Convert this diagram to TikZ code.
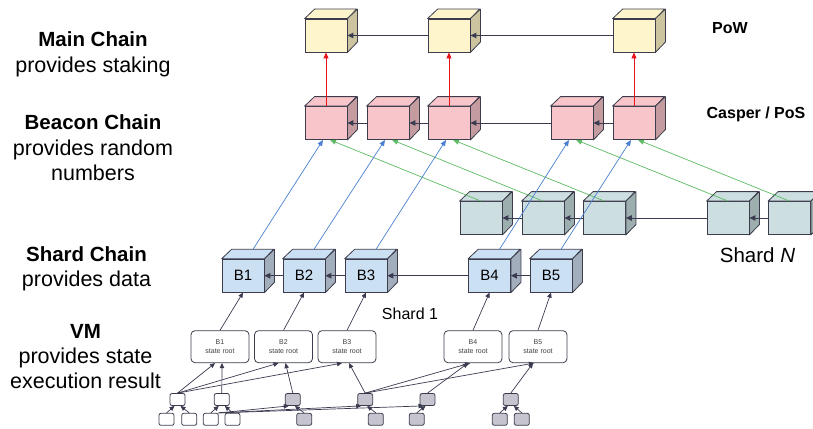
\documentclass[tikz,border=0pt]{standalone}
\usepackage{fontspec}
\setmainfont{Liberation Sans}
\usetikzlibrary{arrows.meta,calc}

\definecolor{edgeC}{HTML}{3C3C4C}
\definecolor{lineC}{HTML}{3A3A50}
\definecolor{powF}{HTML}{FFF5CC}
\definecolor{powS}{HTML}{CCC49F}
\definecolor{posF}{HTML}{F8C6CA}
\definecolor{posS}{HTML}{C49C9F}
\definecolor{shnF}{HTML}{CCDEDF}
\definecolor{shnS}{HTML}{9DAEAF}
\definecolor{sh1F}{HTML}{CCE0F4}
\definecolor{sh1S}{HTML}{A2AEBC}
\definecolor{leafG}{HTML}{C6C4CE}
\definecolor{blueA}{HTML}{4A80D0}
\definecolor{greenA}{HTML}{5DBB63}
\definecolor{redA}{HTML}{E8141C}

\tikzset{
  cubefront/.style={draw=edgeC, line width=0.8pt, minimum width=42pt,
    minimum height=33pt, inner sep=0pt, font=\fontsize{15}{18}\selectfont},
  cubeside/.style={draw=edgeC, line width=0.8pt, line join=round},
  chainlink/.style={draw=lineC, line width=0.9pt, -{Triangle[length=6pt,width=5.5pt]}},
  pownlink/.style={draw=redA, line width=0.7pt, -{Triangle[length=6pt,width=5pt]}},
  datalink/.style={draw=blueA, line width=0.7pt, -{Triangle[length=6pt,width=5pt]}},
  randlink/.style={draw=greenA, line width=0.7pt, -{Triangle[length=6pt,width=5pt]}},
  treelink/.style={draw=lineC, line width=0.7pt, -{Triangle[length=5pt,width=4.5pt]}},
  vmbox/.style={draw=edgeC, line width=0.8pt, rounded corners=4pt, fill=white,
    minimum width=58pt, minimum height=32pt, inner sep=0pt, align=center,
    font=\fontsize{7}{9}\selectfont, text=black!75},
  leafw/.style={draw=edgeC, line width=0.8pt, rounded corners=2pt, fill=white,
    minimum width=15pt, minimum height=12pt, inner sep=0pt},
  leafg/.style={leafw, fill=leafG},
  headtxt/.style={anchor=base, font=\fontsize{20.5}{24}\selectfont\bfseries},
  bodytxt/.style={anchor=base, font=\fontsize{21.5}{25}\selectfont},
  tagtxt/.style={anchor=base, font=\fontsize{16}{19}\selectfont\bfseries},
}

% a block drawn as a cube: front face is the named node, top and side faces follow
\newcommand\blockcube[6]{%
  \node[cubefront, fill=#4] (#1) at (#2,#3) {#6};
  \filldraw[cubeside, fill=#4] (#1.north west) -- ++(10,-9.5) -- ++(42,0) -- (#1.north east) -- cycle;
  \filldraw[cubeside, fill=#5] (#1.north east) -- ++(10,-9.5) -- ++(0,33) -- (#1.south east) -- cycle;
}

\begin{document}
\begin{tikzpicture}[x=1pt,y=-1pt]
\useasboundingbox (0,0) rectangle (813,428);

% ---- left-hand captions
\node[headtxt] (capA) at (93,46.7) {Main Chain};
\node[bodytxt] (capA2) at (93,72) {provides staking};
\node[headtxt] (capB) at (93,129.3) {Beacon Chain};
\node[bodytxt] (capB2) at (93,155) {provides random};
\node[bodytxt] (capB3) at (93,180) {numbers};
\node[headtxt] (capC) at (86.5,261.7) {Shard Chain};
\node[bodytxt] (capC2) at (86.5,286.7) {provides data};
\node[headtxt] (capD) at (85.5,338.3) {VM};
\node[bodytxt] (capD2) at (85.5,363.3) {provides state};
\node[bodytxt] (capD3) at (85.5,388.3) {execution result};

% ---- right-hand tags
\node[tagtxt] (tagPow) at (730,33.3) {PoW};
\node[tagtxt] (tagPos) at (756,118.3) {Casper / PoS};
\node[anchor=base, font=\fontsize{20.5}{24}\selectfont] (tagShN) at (757.5,262.7) {Shard \textit{N}};
\node[anchor=base, font=\fontsize{16}{19}\selectfont] (tagSh1) at (410,319.5) {Shard 1};

% ---- shard N chain
\blockcube{n1}{481}{218}{shnF}{shnS}{}
\blockcube{n2}{543}{218}{shnF}{shnS}{}
\blockcube{n3}{604.5}{218}{shnF}{shnS}{}
\blockcube{n4}{728}{218}{shnF}{shnS}{}
\blockcube{n5}{789.5}{218}{shnF}{shnS}{}

% ---- beacon chain
\blockcube{p1}{326}{123}{posF}{posS}{}
\blockcube{p2}{388}{123}{posF}{posS}{}
\blockcube{p3}{449}{123}{posF}{posS}{}
\blockcube{p4}{572}{123}{posF}{posS}{}
\blockcube{p5}{634}{123}{posF}{posS}{}

% ---- main chain
\blockcube{m1}{326}{35.5}{powF}{powS}{}
\blockcube{m2}{449}{35.5}{powF}{powS}{}
\blockcube{m3}{634}{35.5}{powF}{powS}{}

% ---- shard 1 chain
\blockcube{s1}{243}{275.7}{sh1F}{sh1S}{B1}
\blockcube{s2}{304}{275.7}{sh1F}{sh1S}{B2}
\blockcube{s3}{366}{275.7}{sh1F}{sh1S}{B3}
\blockcube{s4}{489.5}{275.7}{sh1F}{sh1S}{B4}
\blockcube{s5}{551}{275.7}{sh1F}{sh1S}{B5}

% ---- chain links
\draw[chainlink] (m2.west) -- (m1.east);
\draw[chainlink] (m3.west) -- (m2.east);
\draw[chainlink] (p2.west) -- (p1.east);
\draw[chainlink] (p3.west) -- (p2.east);
\draw[chainlink] (p4.west) -- (p3.east);
\draw[chainlink] (p5.west) -- (p4.east);
\draw[chainlink] (n2.west) -- (n1.east);
\draw[chainlink] (n3.west) -- (n2.east);
\draw[chainlink] (n4.west) -- (n3.east);
\draw[chainlink] (n5.west) -- (n4.east);
\draw[chainlink] (s2.west) -- (s1.east);
\draw[chainlink] (s3.west) -- (s2.east);
\draw[chainlink] (s4.west) -- (s3.east);
\draw[chainlink] (s5.west) -- (s4.east);

% ---- beacon blocks anchored in the main chain
\draw[pownlink] (p1.north) -- (m1.south);
\draw[pownlink] (p3.north) -- (m2.south);
\draw[pownlink] (p5.north) -- (m3.south);

% ---- shard N blocks feed randomness links
\foreach \i in {1,...,5}{
  \draw[randlink] (n\i.north) -- ($(p\i.south)+(4,0)$);
}
% ---- shard 1 blocks feed data links
\foreach \i in {1,...,5}{
  \draw[datalink] ($(s\i.north)+(10,-9.5)$) -- ($(p\i.south)+(-3,0)$);
}

% ---- VM state roots
\node[vmbox] (v1) at (220,346.7) {B1\\state root};
\node[vmbox] (v2) at (283.5,346.7) {B2\\state root};
\node[vmbox] (v3) at (347,346.7) {B3\\state root};
\node[vmbox] (v4) at (473,346.7) {B4\\state root};
\node[vmbox] (v5) at (538,346.7) {B5\\state root};
\foreach \i in {1,...,5}{
  \draw[treelink] (v\i.north) -- (s\i.south);
}

% ---- state tree, upper level
\node[leafw] (w1) at (177.5,399.5) {};
\node[leafw] (w2) at (221.8,399.5) {};
\node[leafg] (g1) at (292.8,399.5) {};
\node[leafg] (g2) at (365.2,399.5) {};
\node[leafg] (g3) at (427.5,399.5) {};
\node[leafg] (g4) at (510.8,399.5) {};
% ---- state tree, lower level
\node[leafw] (ta) at (166.5,419.3) {};
\node[leafw] (tb) at (189.2,419.3) {};
\node[leafw] (tc) at (210.8,419.3) {};
\node[leafw] (td) at (232.5,419.3) {};
\node[leafg] (te) at (304.2,419.3) {};
\node[leafg] (tf) at (375.8,419.3) {};
\node[leafg] (tg) at (416.7,419.3) {};
\node[leafg] (th) at (499.8,419.3) {};
\node[leafg] (ti) at (521.8,419.3) {};

% upper level into the state roots
\draw[treelink] (w1.north) -- ($(v1.south)+(-5,0)$);
\draw[treelink] (w1.north) -- ($(v2.south)+(-5,0)$);
\draw[treelink] (w1.north) -- ($(v3.south)+(-5,0)$);
\draw[treelink] (w2.north) -- ($(v1.south)+(2,0)$);
\draw[treelink] (g1.north) -- ($(v2.south)+(2,0)$);
\draw[treelink] (g2.north) -- ($(v3.south)+(2,0)$);
\draw[treelink] (g2.north) -- ($(v4.south)+(-3,0)$);
\draw[treelink] (g2.north) -- ($(v5.south)+(-4,0)$);
\draw[treelink] (g3.north) -- ($(v4.south)+(-5,0)$);
\draw[treelink] (g4.north) -- ($(v5.south)+(-5,0)$);

% lower level into the upper level
\draw[treelink] (ta.north) -- ($(w1.south)+(-3,0)$);
\draw[treelink] (tb.north) -- ($(w1.south)+(3,0)$);
\draw[treelink] (tc.north) -- ($(w2.south)+(-3,0)$);
\draw[treelink] (td.north) -- ($(w2.south)+(3,0)$);
\draw[treelink] (te.north) -- ($(g1.south)+(2,0)$);
\draw[treelink] (tf.north) -- ($(g2.south)+(2,0)$);
\draw[treelink] (tg.north) -- ($(g3.south)+(-2,0)$);
\draw[treelink] (th.north) -- ($(g4.south)+(-3,0)$);
\draw[treelink] (ti.north) -- ($(g4.south)+(3,0)$);
\draw[treelink] (tc.north east) -- ($(g1.south)+(-4,0)$);
\draw[treelink] (tc.north east) -- ($(g2.south)+(-4,0)$);
\draw[treelink] (tc.north east) -- ($(g3.south)+(-4,0)$);

\end{tikzpicture}
\end{document}
